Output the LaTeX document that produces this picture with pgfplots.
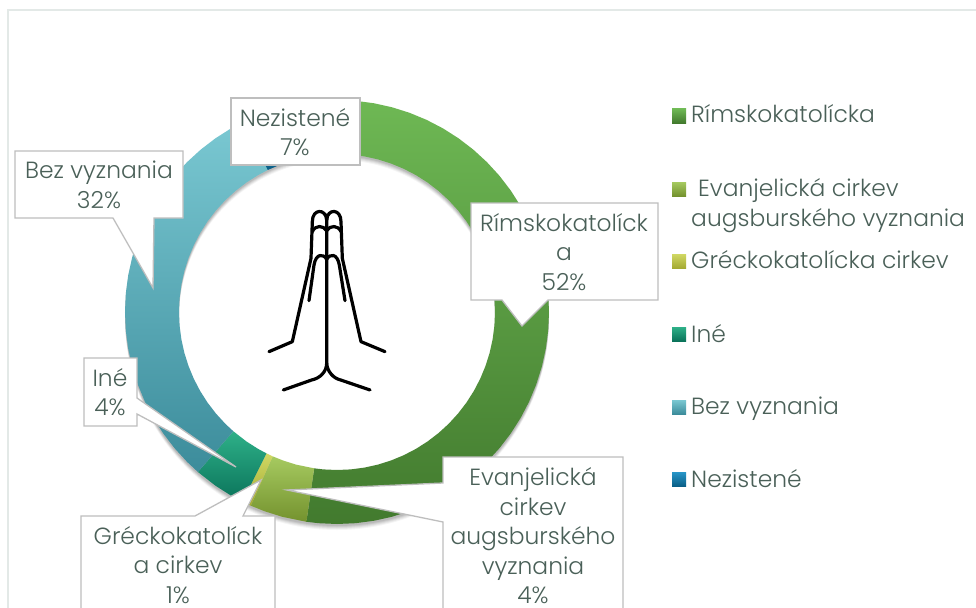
\documentclass[border=0pt]{standalone}
\usepackage{fontspec}
\setmainfont{Poppins Light}
\usepackage{pgfplots}
\usepgfplotslibrary{polar}
\pgfplotsset{compat=1.18}
\definecolor{txt}{RGB}{74,96,88}
\definecolor{boxline}{RGB}{190,190,190}
\definecolor{frameline}{RGB}{227,233,231}
\definecolor{aT}{RGB}{110,184,84}\definecolor{aB}{RGB}{66,122,46}
\definecolor{bT}{RGB}{166,202,96}\definecolor{bB}{RGB}{116,146,46}
\definecolor{cT}{RGB}{208,216,100}\definecolor{cB}{RGB}{165,170,50}
\definecolor{dT}{RGB}{46,176,136}\definecolor{dB}{RGB}{10,115,90}
\definecolor{eT}{RGB}{122,200,210}\definecolor{eB}{RGB}{60,140,155}
\definecolor{fT}{RGB}{40,150,200}\definecolor{fB}{RGB}{10,95,135}
\tikzset{lab/.style={font=\fontsize{23.4}{29.5}\selectfont,text=txt,align=center,inner sep=0pt},
  legtxt/.style={font=\fontsize{23.4}{29}\selectfont,text=txt,anchor=base west,inner sep=0pt},
  callout/.style={fill=white,draw=boxline,line width=1.3pt,line join=miter}}
\begin{document}
\begin{tikzpicture}[x=1pt,y=-1pt]
\path[use as bounding box] (0,0) rectangle (976,607);
\clip (0,0) rectangle (976,607);
\fill[white] (0,0) rectangle (976,607);
\draw[frameline,line width=1.3pt] (8,10) rectangle (1000,700);
% soft shadow under the ring
\foreach \o/\op in {6/.04,5/.05,4/.06,3/.07,2/.08}{
  \fill[black,opacity=\op,even odd rule] (337,312+\o) circle (212) (337,312+\o) circle (158);
}
\begin{polaraxis}[
    at={(337pt,-312pt)},anchor=origin,
    scale only axis,width=424pt,height=424pt,
    ymin=0,ymax=212,
    hide axis,clip=false]
% Rimskokatolicka 52 %
\addplot[draw=none,top color=aT,bottom color=aB] coordinates {(450,212)(445,212)(440,212)(435,212)(430,212)(425,212)(420,212)(415,212)(410,212)(405,212)(400,212)(395,212)(390,212)(385,212)(380,212)(375,212)(370,212)(365,212)(360,212)(355,212)(350,212)(345,212)(340,212)(335,212)(330,212)(325,212)(320,212)(315,212)(310,212)(305,212)(300,212)(295,212)(290,212)(285,212)(280,212)(275,212)(270,212)(265,212)(261.7,212)
(261.7,158)(265,158)(270,158)(275,158)(280,158)(285,158)(290,158)(295,158)(300,158)(305,158)(310,158)(315,158)(320,158)(325,158)(330,158)(335,158)(340,158)(345,158)(350,158)(355,158)(360,158)(365,158)(370,158)(375,158)(380,158)(385,158)(390,158)(395,158)(400,158)(405,158)(410,158)(415,158)(420,158)(425,158)(430,158)(435,158)(440,158)(445,158)(450,158)} -- cycle;
% Evanjelicka cirkev augsburskeho vyznania 4 %
\addplot[draw=none,top color=bT,bottom color=bB] coordinates {(261.7,212)(255,212)(250,212)(246,212)(246,158)(250,158)(255,158)(261.7,158)} -- cycle;
% Greckokatolicka cirkev 1 %
\addplot[draw=none,top color=cT,bottom color=cB] coordinates {(246,212)(243.5,212)(243.5,158)(246,158)} -- cycle;
% Ine 4 %
\addplot[draw=none,top color=dT,bottom color=dB] coordinates {(243.5,212)(240,212)(235,212)(229,212)(229,158)(235,158)(240,158)(243.5,158)} -- cycle;
% Bez vyznania 32 %
\addplot[draw=none,top color=eT,bottom color=eB] coordinates {(229,212)(225,212)(220,212)(215,212)(210,212)(205,212)(200,212)(195,212)(190,212)(185,212)(180,212)(175,212)(170,212)(165,212)(160,212)(155,212)(150,212)(145,212)(140,212)(135,212)(130,212)(125,212)(120,212)(116,212)
(116,158)(120,158)(125,158)(130,158)(135,158)(140,158)(145,158)(150,158)(155,158)(160,158)(165,158)(170,158)(175,158)(180,158)(185,158)(190,158)(195,158)(200,158)(205,158)(210,158)(215,158)(220,158)(225,158)(229,158)} -- cycle;
% Nezistene 7 %
\addplot[draw=none,top color=fT,bottom color=fB] coordinates {(116,212)(110,212)(105,212)(100,212)(95,212)(90,212)(90,158)(95,158)(100,158)(105,158)(110,158)(116,158)} -- cycle;
\end{polaraxis}
% praying hands
\begin{scope}[shift={(240,190)},x=.3333pt,y=-.3333pt,black,line width=3.2pt,line cap=round,line join=round]
\draw (260,75) -- (260,520) .. controls (260,545) and (240,565) .. (215,570) -- (130,600);
\draw (260,520) .. controls (262,545) and (280,565) .. (302,570) -- (390,600);
\draw (260,90) .. controls (258,55) and (217,55) .. (217,95) -- (213,205) -- (157,455) -- (87,485);
\draw (260,90) .. controls (262,55) and (303,55) .. (303,95) -- (307,205) -- (363,455) -- (435,485);
\draw (217,125) .. controls (225,105) and (250,105) .. (260,122) .. controls (270,105) and (295,105) .. (303,125);
\draw (207,332) -- (222,225) .. controls (228,190) and (250,190) .. (260,208) .. controls (270,190) and (292,190) .. (298,225) -- (315,332);
\end{scope}
% callouts
\draw[callout] (231,98) rectangle (360,165);
\node[lab] at (295,132) {Nezistené\\7\%};
\draw[callout] (15,151) -- (183,151) -- (183,218) -- (154,218) -- (153,288) -- (113,218) -- (15,218) -- cycle;
\node[lab] at (99,185) {Bez vyznania\\32\%};
\draw[callout] (471,203) -- (658,203) -- (658,300) -- (548,300) -- (522,326) -- (502,300) -- (471,300) -- cycle;
\node[lab] at (564,252) {Rímskokatolíck\\a\\52\%};
\draw[callout] (84,358) -- (137,358) -- (137,398) -- (236,467) -- (137,414) -- (137,426) -- (84,426) -- cycle;
\node[lab] at (110,392) {Iné\\4\%};
\draw[callout] (81,516) -- (195,516) -- (261,480) -- (243,516) -- (275,516) -- (275,640) -- (81,640) -- cycle;
\node[lab] at (178,565) {Gréckokatolíck\\a cirkev\\1\%};
\draw[callout] (443,457) -- (623,457) -- (623,640) -- (443,640) -- (443,522) -- (287,490) -- (443,483) -- cycle;
\node[lab] at (533,536) {Evanjelická\\cirkev\\augsburského\\vyznania\\4\%};
% legend
\shade[top color=aT,bottom color=aB] (672,109) rectangle (686,123);
\node[legtxt] at (691,123) {Rímskokatolícka};
\shade[top color=bT,bottom color=bB] (672,182) rectangle (686,196);
\node[legtxt] at (698,196) {Evanjelická cirkev};
\node[legtxt] at (691,226) {augsburského vyznania};
\shade[top color=cT,bottom color=cB] (672,254) rectangle (686,268);
\node[legtxt] at (691,268) {Gréckokatolícka cirkev};
\shade[top color=dT,bottom color=dB] (672,327) rectangle (686,341);
\node[legtxt] at (691,342) {Iné};
\shade[top color=eT,bottom color=eB] (672,400) rectangle (686,414);
\node[legtxt] at (691,414) {Bez vyznania};
\shade[top color=fT,bottom color=fB] (672,472) rectangle (686,486);
\node[legtxt] at (691,487) {Nezistené};
\end{tikzpicture}
\end{document}
